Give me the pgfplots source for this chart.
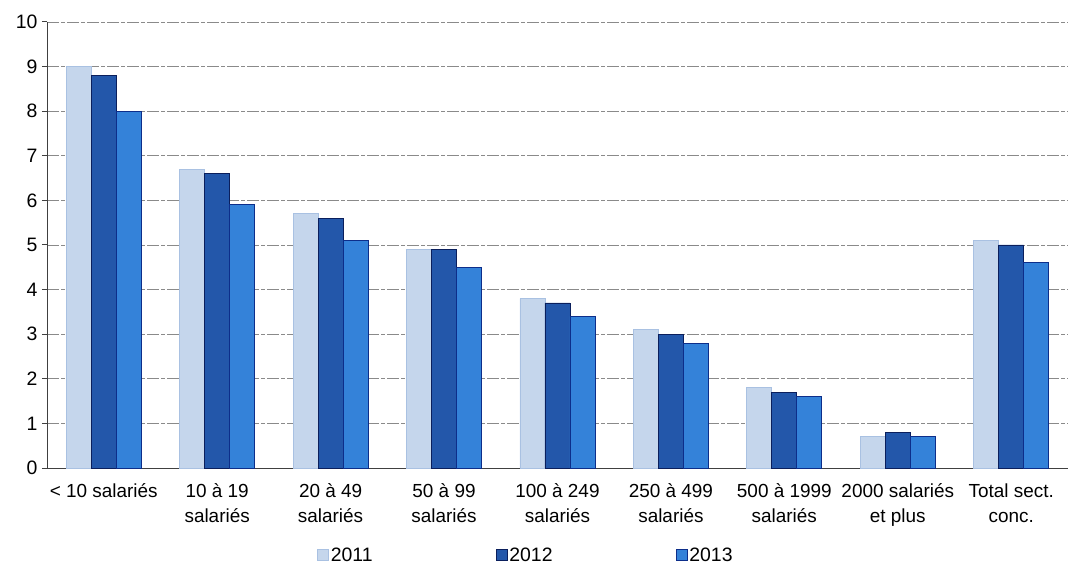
\documentclass[border=0pt]{standalone}
\usepackage{fontspec}
\setmainfont{Liberation Sans}
\usepackage{pgfplots}
\pgfplotsset{compat=1.18}
\definecolor{c11}{HTML}{C5D6EC}
\definecolor{c11e}{HTML}{A9C1E2}
\definecolor{c12}{HTML}{2357AA}
\definecolor{c12e}{HTML}{0B1F5C}
\definecolor{c13}{HTML}{3482D9}
\definecolor{c13e}{HTML}{0D2E8A}
\definecolor{gridc}{HTML}{8A8A8A}
\begin{document}
\begin{tikzpicture}
\path[use as bounding box] (0,0) rectangle (1073bp,565bp);
\begin{axis}[
  at={(47bp,97bp)}, anchor=south west,
  scale only axis, width=1021bp, height=446bp,
  ybar=0pt, bar width=25bp,
  xmin=-0.5, xmax=8.5, ymin=0, ymax=10,
  ytick={0,1,...,10},
  xtick={0,...,8},
  xticklabels={{< 10 salariés},{10 à 19\\salariés},{20 à 49\\salariés},{50 à 99\\salariés},{100 à 249\\salariés},{250 à 499\\salariés},{500 à 1999\\salariés},{2000 salariés\\et plus},{Total sect.\\conc.}},
  xticklabel style={align=center, font=\fontsize{19}{25}\selectfont, yshift=-7bp},
  yticklabel style={font=\fontsize{19.5}{22}\selectfont, xshift=-1bp},
  /pgf/number format/assume math mode=true,
  major x tick style={draw=none},
  extra x ticks={0.5,1.5,...,7.5},
  extra x tick labels={},
  extra x tick style={major tick length=6bp, tick style={draw=black!75, line width=1pt}, tick align=outside, grid=none},
  ytick style={draw=black!75, line width=1pt},
  tick align=outside, major tick length=5bp,
  axis x line*=bottom, axis y line*=left,
  axis line style={draw=black!75, line width=1pt, -},
  ymajorgrids,
  major grid style={draw=gridc, line width=0.9pt, dash pattern=on 12bp off 2bp on 4bp off 2bp},
  legend columns=3,
  legend style={draw=none, fill=none, at={(0.469,-0.195)}, anchor=center,
    font=\fontsize{19.5}{22}\selectfont,
    /tikz/every even column/.append style={column sep=121bp}},
  legend image code/.code={\draw[#1, line width=0.8pt] (0bp,-5.5bp) rectangle (11bp,5.5bp);},
  clip=false,
]
\addplot[fill=c11, draw=c11e, line width=0.8pt] coordinates {(0,9.0) (1,6.7) (2,5.7) (3,4.9) (4,3.8) (5,3.1) (6,1.8) (7,0.7) (8,5.1)};
\addplot[fill=c12, draw=c12e, line width=0.8pt] coordinates {(0,8.8) (1,6.6) (2,5.6) (3,4.9) (4,3.7) (5,3.0) (6,1.7) (7,0.8) (8,5.0)};
\addplot[fill=c13, draw=c13e, line width=0.8pt] coordinates {(0,8.0) (1,5.9) (2,5.1) (3,4.5) (4,3.4) (5,2.8) (6,1.6) (7,0.7) (8,4.6)};
\legend{2011,2012,2013}
\end{axis}
\end{tikzpicture}
\end{document}
